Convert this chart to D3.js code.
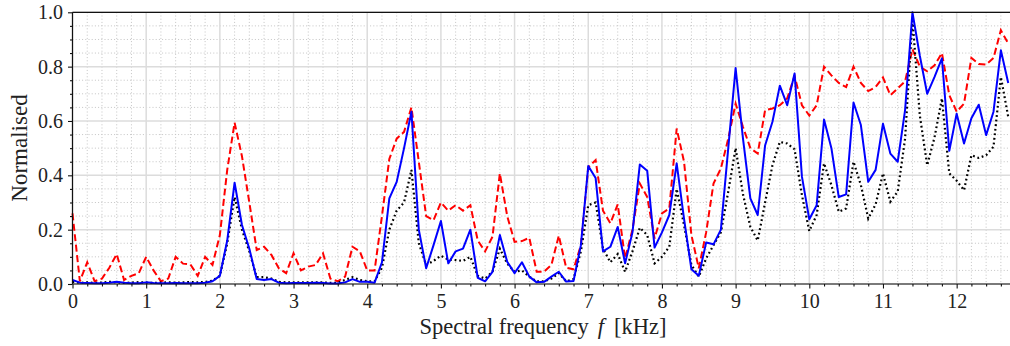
<!DOCTYPE html>
<html>
<head>
<meta charset="utf-8">
<script src="https://cdn.jsdelivr.net/npm/d3@7"></script>
<style>
  html, body { margin: 0; padding: 0; background: #fff; }
  svg { display: block; }
  text { font-family: "Liberation Serif", "DejaVu Serif", serif; fill: #222; }
</style>
</head>
<body>
<svg id="chart" width="1010" height="346"></svg>
<script>
// ---------- DATA ----------
const freqKHz = [
  0.0,0.1,0.2,0.3,0.4,0.5,0.6,0.7,0.8,0.9,
  1.0,1.1,1.2,1.3,1.4,1.5,1.6,1.7,1.8,1.9,
  2.0,2.1,2.2,2.3,2.4,2.5,2.6,2.7,2.8,2.9,
  3.0,3.1,3.2,3.3,3.4,3.5,3.6,3.7,3.8,3.9,
  4.0,4.1,4.2,4.3,4.4,4.5,4.6,4.7,4.8,4.9,
  5.0,5.1,5.2,5.3,5.4,5.5,5.6,5.7,5.8,5.9,
  6.0,6.1,6.2,6.3,6.4,6.5,6.6,6.7,6.8,6.9,
  7.0,7.1,7.2,7.3,7.4,7.5,7.6,7.7,7.8,7.9,
  8.0,8.1,8.2,8.3,8.4,8.5,8.6,8.7,8.8,8.9,
  9.0,9.1,9.2,9.3,9.4,9.5,9.6,9.7,9.8,9.9,
  10.0,10.1,10.2,10.3,10.4,10.5,10.6,10.7,10.8,10.9,
  11.0,11.1,11.2,11.3,11.4,11.5,11.6,11.7,11.8,11.9,
  12.0,12.1,12.2,12.3,12.4,12.5,12.6,12.7
];

const seriesDashed = [
  0.26,0.01,0.08,0.01,0.02,0.06,0.11,0.015,0.03,0.04,
  0.10,0.05,0.01,0.02,0.10,0.075,0.072,0.03,0.10,0.07,
  0.18,0.42,0.594,0.47,0.30,0.125,0.137,0.107,0.058,0.04,
  0.113,0.05,0.064,0.07,0.113,0.02,0.01,0.027,0.137,0.12,
  0.05,0.05,0.25,0.46,0.535,0.56,0.65,0.45,0.25,0.235,
  0.30,0.27,0.29,0.27,0.29,0.16,0.12,0.174,0.407,0.25,
  0.155,0.158,0.17,0.045,0.045,0.07,0.178,0.06,0.054,0.143,
  0.43,0.456,0.27,0.223,0.293,0.094,0.20,0.37,0.32,0.168,
  0.26,0.278,0.572,0.45,0.18,0.058,0.19,0.37,0.425,0.535,
  0.664,0.578,0.50,0.48,0.64,0.646,0.658,0.683,0.766,0.658,
  0.62,0.658,0.80,0.768,0.74,0.725,0.80,0.74,0.71,0.725,
  0.76,0.695,0.72,0.746,0.864,0.80,0.783,0.805,0.85,0.695,
  0.634,0.664,0.832,0.81,0.808,0.832,0.934,0.885
];

const seriesSolid = [
  0.015,0.005,0.004,0.003,0.003,0.005,0.008,0.005,0.003,0.003,
  0.006,0.004,0.003,0.003,0.004,0.003,0.003,0.003,0.005,0.01,
  0.03,0.16,0.373,0.217,0.13,0.018,0.015,0.018,0.005,0.003,
  0.004,0.004,0.004,0.005,0.004,0.002,0.002,0.006,0.018,0.008,
  0.008,0.005,0.08,0.315,0.376,0.50,0.634,0.20,0.058,0.143,
  0.232,0.076,0.12,0.13,0.20,0.023,0.01,0.045,0.18,0.082,
  0.04,0.08,0.027,0.006,0.008,0.027,0.045,0.009,0.011,0.143,
  0.434,0.39,0.12,0.137,0.21,0.076,0.19,0.44,0.417,0.134,
  0.19,0.254,0.444,0.24,0.054,0.03,0.153,0.146,0.20,0.50,
  0.795,0.535,0.315,0.254,0.51,0.597,0.73,0.658,0.775,0.395,
  0.238,0.29,0.605,0.50,0.32,0.33,0.668,0.585,0.376,0.42,
  0.59,0.48,0.45,0.64,1.0,0.84,0.70,0.762,0.83,0.49,
  0.627,0.517,0.61,0.66,0.548,0.634,0.86,0.74
];

const seriesDotted = [
  0.008,0.004,0.006,0.004,0.005,0.008,0.006,0.004,0.005,0.007,
  0.005,0.004,0.005,0.006,0.005,0.006,0.007,0.006,0.008,0.012,
  0.03,0.15,0.32,0.20,0.12,0.025,0.025,0.02,0.008,0.006,
  0.006,0.006,0.006,0.006,0.006,0.004,0.004,0.015,0.025,0.015,
  0.01,0.01,0.06,0.20,0.27,0.30,0.42,0.15,0.07,0.085,
  0.104,0.09,0.088,0.085,0.10,0.03,0.02,0.045,0.13,0.075,
  0.045,0.05,0.027,0.01,0.01,0.02,0.04,0.01,0.018,0.12,
  0.29,0.30,0.13,0.08,0.11,0.045,0.12,0.207,0.18,0.076,
  0.10,0.137,0.35,0.217,0.07,0.027,0.094,0.143,0.19,0.34,
  0.50,0.33,0.21,0.16,0.30,0.437,0.523,0.517,0.496,0.327,
  0.195,0.254,0.444,0.364,0.266,0.278,0.45,0.364,0.241,0.293,
  0.407,0.303,0.34,0.535,0.977,0.62,0.437,0.54,0.683,0.407,
  0.38,0.345,0.474,0.464,0.474,0.505,0.762,0.615
];

const xTickValues = [0,1,2,3,4,5,6,7,8,9,10,11,12];
const yTickValues = [0.0,0.2,0.4,0.6,0.8,1.0];
const yTickLabels = ["0.0","0.2","0.4","0.6","0.8","1.0"];
const xLabel = "Spectral frequency";
const xLabelVar = "f";
const xLabelUnit = "[kHz]";
const yLabel = "Normalised";

// ---------- LAYOUT ----------
const W = 1010, H = 346;
const plotLeft = 72.5, plotTop = 12.3, plotBottom = 284;
const pxPerKHz = 73.68;
const xMax = (W + 2 - plotLeft) / pxPerKHz;

const svg = d3.select("#chart");
const x = d3.scaleLinear().domain([0, xMax]).range([plotLeft, plotLeft + xMax * pxPerKHz]);
const y = d3.scaleLinear().domain([0, 1]).range([plotBottom, plotTop]);
const plotRight = x.range()[1];

// minor grid
const xMinor = d3.range(0, xMax, 0.2).filter(v => Math.abs(v - Math.round(v)) > 1e-6);
const yMinor = d3.range(0, 1.0001, 0.05).filter(v => Math.abs(v * 5 - Math.round(v * 5)) > 1e-6);

const grid = svg.append("g");
grid.selectAll(".vmin").data(xMinor).join("line")
  .attr("x1", d => x(d)).attr("x2", d => x(d)).attr("y1", plotTop).attr("y2", plotBottom)
  .attr("stroke", "#c4c4c4").attr("stroke-width", 1).attr("stroke-dasharray", "1,2.2");
grid.selectAll(".hmin").data(yMinor).join("line")
  .attr("x1", plotLeft).attr("x2", plotRight).attr("y1", d => y(d)).attr("y2", d => y(d))
  .attr("stroke", "#c4c4c4").attr("stroke-width", 1).attr("stroke-dasharray", "1,2.2");
grid.selectAll(".vmaj").data(xTickValues).join("line")
  .attr("x1", d => x(d)).attr("x2", d => x(d)).attr("y1", plotTop).attr("y2", plotBottom)
  .attr("stroke", "#dcdcdc").attr("stroke-width", 1.5);
grid.selectAll(".hmaj").data(yTickValues).join("line")
  .attr("x1", plotLeft).attr("x2", plotRight).attr("y1", d => y(d)).attr("y2", d => y(d))
  .attr("stroke", "#dcdcdc").attr("stroke-width", 1.5);

// ---------- SERIES ----------
const line = vals => d3.line().x((d, i) => x(freqKHz[i])).y(d => y(d))(vals);

svg.append("path").attr("d", line(seriesDashed))
  .attr("fill", "none").attr("stroke", "#ff0000").attr("stroke-width", 2)
  .attr("stroke-dasharray", "7,3.5");
svg.append("path").attr("d", line(seriesDotted))
  .attr("fill", "none").attr("stroke", "#000").attr("stroke-width", 2.2)
  .attr("stroke-dasharray", "1.8,2.8");
svg.append("path").attr("d", line(seriesSolid))
  .attr("fill", "none").attr("stroke", "#0000ff").attr("stroke-width", 2)
  .attr("stroke-linejoin", "round");

// ---------- AXES ----------
const fs = 20;
const xAxisMinor = d3.axisBottom(x).tickValues(xMinor).tickSize(2.5).tickFormat("");
const xAxis = d3.axisBottom(x).tickValues(xTickValues).tickSize(4.5).tickPadding(5).tickFormat(d3.format("d"));
const yAxisMinor = d3.axisLeft(y).tickValues(yMinor).tickSize(2.5).tickFormat("");
const yAxis = d3.axisLeft(y).tickValues(yTickValues).tickSize(4.5).tickPadding(5)
  .tickFormat((d, i) => yTickLabels[i]);

function styleAxis(g) {
  g.select(".domain").remove();
  g.selectAll("line").attr("stroke", "#111").attr("stroke-width", 1.1);
  g.selectAll("text").attr("font-size", fs).attr("fill", "#222")
    .style("font-family", '"Liberation Serif", serif');
}
svg.append("g").attr("transform", `translate(0,${plotBottom})`).call(xAxisMinor).call(styleAxis);
svg.append("g").attr("transform", `translate(0,${plotBottom})`).call(xAxis).call(styleAxis);
svg.append("g").attr("transform", `translate(${plotLeft},0)`).call(yAxisMinor).call(styleAxis);
svg.append("g").attr("transform", `translate(${plotLeft},0)`).call(yAxis).call(styleAxis);

// spines
svg.append("line").attr("x1", plotLeft).attr("x2", plotRight).attr("y1", plotBottom).attr("y2", plotBottom)
  .attr("stroke", "#111").attr("stroke-width", 1.2);
svg.append("line").attr("x1", plotLeft).attr("x2", plotRight).attr("y1", plotTop).attr("y2", plotTop)
  .attr("stroke", "#111").attr("stroke-width", 1.2);
svg.append("line").attr("x1", plotLeft).attr("x2", plotLeft).attr("y1", plotTop).attr("y2", plotBottom)
  .attr("stroke", "#111").attr("stroke-width", 1.2);

// axis labels
const xl = svg.append("text").attr("x", 543).attr("y", 334).attr("text-anchor", "middle")
  .attr("font-size", 22.5);
xl.append("tspan").text(xLabel);
xl.append("tspan").attr("dx", 9).attr("font-style", "italic").text(xLabelVar);
xl.append("tspan").attr("dx", 10).text(xLabelUnit);

svg.append("text").attr("transform", `translate(27,148) rotate(-90)`)
  .attr("text-anchor", "middle").attr("font-size", 23).text(yLabel);
</script>
</body>
</html>
